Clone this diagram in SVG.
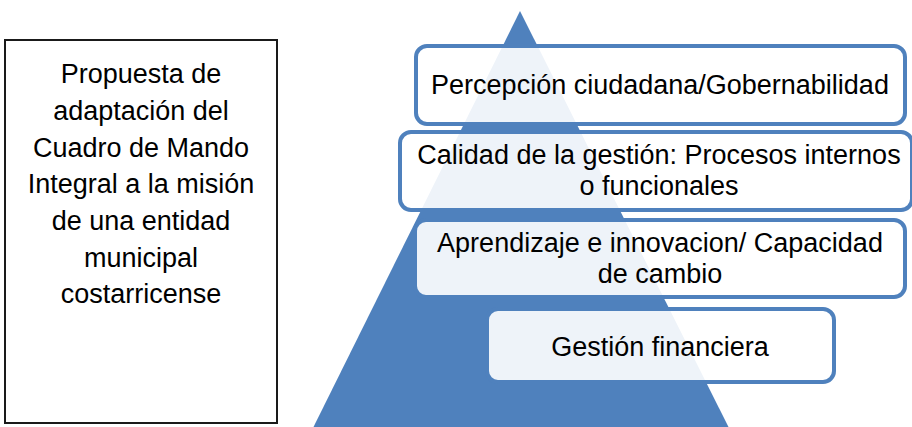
<svg xmlns="http://www.w3.org/2000/svg" width="912" height="427" viewBox="0 0 912 427">
  <style>
    .t { font-family: "Liberation Sans", Arial, sans-serif; font-size: 27px; fill: #000; text-anchor: middle; }
    .lvl { fill: #ffffff; fill-opacity: 0.9; stroke: #4f81bd; stroke-width: 4; }
    .tri { fill: #4f81bd; }
  </style>
  <rect width="912" height="427" fill="#ffffff"/>
  <g id="title">
    <rect x="5" y="40" width="272" height="383" fill="#ffffff" stroke="#1a1a1a" stroke-width="2"/>
    <text class="t" x="141" y="83">Propuesta de</text>
    <text class="t" x="141" y="120">adaptación del</text>
    <text class="t" x="141" y="157">Cuadro de Mando</text>
    <text class="t" x="141" y="193">Integral a la misión</text>
    <text class="t" x="141" y="230">de una entidad</text>
    <text class="t" x="141" y="267">municipal</text>
    <text class="t" x="141" y="303">costarricense</text>
  </g>
  <g id="pyramid">
    <polygon class="tri" points="520,11 730,430 312,430"/>
  </g>
  <g id="level-percepcion">
    <rect class="lvl" x="416" y="46" width="489" height="78" rx="11"/>
    <text class="t" x="660" y="94">Percepción ciudadana/Gobernabilidad</text>
  </g>
  <g id="level-calidad">
    <rect class="lvl" x="400" y="132" width="512" height="78" rx="11"/>
    <text class="t" x="659" y="164">Calidad de la gestión: Procesos internos</text>
    <text class="t" x="659" y="195">o funcionales</text>
  </g>
  <g id="level-aprendizaje">
    <rect class="lvl" x="415" y="220" width="490" height="77" rx="11"/>
    <text class="t" x="660" y="252">Aprendizaje e innovacion/ Capacidad</text>
    <text class="t" x="660" y="283">de cambio</text>
  </g>
  <g id="level-financiera">
    <rect class="lvl" x="487" y="309" width="347" height="73" rx="11"/>
    <text class="t" x="660" y="356">Gestión financiera</text>
  </g>
</svg>
